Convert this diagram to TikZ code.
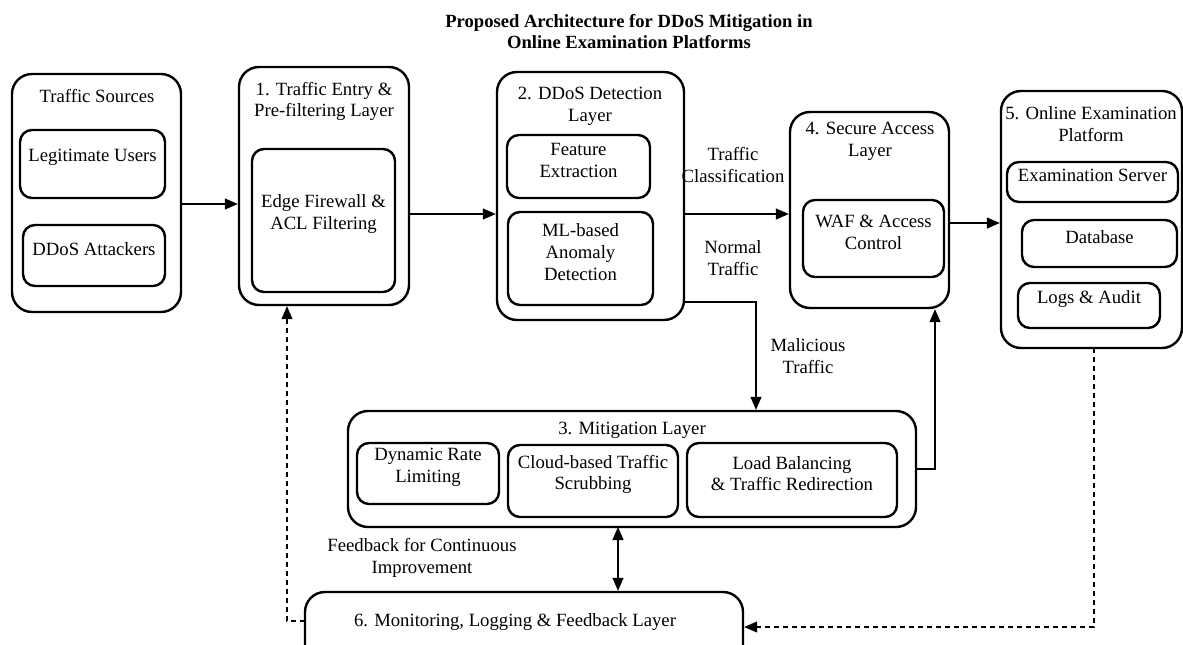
\documentclass[tikz,border=0pt]{standalone}
\usepackage{fontspec}
\setmainfont{Liberation Serif}
\newfontfamily\tnr{Liberation Serif}
\usetikzlibrary{fit,arrows.meta}
\begin{document}
\begin{tikzpicture}[x=1pt,y=-1pt,
  every node/.style={font=\tnr\fontsize{18.7}{21.8}\selectfont, align=center, inner sep=0pt},
  obox/.style={draw, line width=2.4pt, rounded corners=20pt},
  ibox/.style={draw, line width=2.4pt, rounded corners=12pt},
  arr/.style={line width=1.3pt, -{Triangle[length=13pt,width=11pt]}},
  darr/.style={line width=1.3pt, {Triangle[length=13pt,width=11pt]}-{Triangle[length=13pt,width=11pt]}},
  dasharr/.style={line width=1.1pt, dash pattern=on 5pt off 4pt, -{Triangle[length=13pt,width=11pt]}}
]
\useasboundingbox (0,0) rectangle (1183,645);
\clip (0,0) rectangle (1183,645);

% title
\node[font=\tnr\fontsize{18.6}{21}\selectfont\bfseries] (title) at (629,31.5) {Proposed Architecture for DDoS Mitigation in\\Online Examination Platforms};

% Traffic sources
\node[obox, fit={(12,74) (181,312)}] (src) {};
\node (srct) at (97,96) {Traffic Sources};
\node[ibox, fit={(20,130) (165,198)}] (legit) {Legitimate Users};
\node[ibox, fit={(23,225) (165,286)}] (ddos) {DDoS Attackers};

% Layer 1
\node[obox, fit={(239,67) (409,305)}] (l1) {};
\node (l1t) at (324,101.5) {1. Traffic Entry \&\\Pre-filtering Layer};
\node[ibox, fit={(252,149) (395,292)}] (edge) {Edge Firewall \&\\ACL Filtering};

% Layer 2
\node[obox, fit={(497,72) (684,320)}] (l2) {};
\node (l2t) at (590,106) {2. DDoS Detection\\Layer};
\node[ibox, fit={(507,135) (650,198)}] (feat) {Feature\\Extraction};
\node[ibox, fit={(508,212) (653,305)}] (ml) {ML-based\\Anomaly\\Detection};

% Layer 4
\node[obox, fit={(790,112) (949,308)}] (l4) {};
\node (l4t) at (870,141.5) {4. Secure Access\\Layer};
\node[ibox, fit={(803,200) (944,277)}] (waf) {WAF \& Access\\Control};

% Layer 5
\node[obox, fit={(1001,91) (1182,348)}] (l5) {};
\node (l5t) at (1091,124) {5. Online Examination\\Platform};
\node[ibox, fit={(1007,162) (1178,202)}] (exsrv) {Examination Server};
\node[ibox, fit={(1022,220) (1177,267)}] (db) {Database};
\node[ibox, fit={(1018,283) (1160,328)}] (logs) {Logs \& Audit};

% Layer 3
\node[obox, fit={(348,411) (916,527)}] (l3) {};
\node (l3t) at (632,430) {3. Mitigation Layer};
\node[ibox, fit={(357,443) (499,504)}] (drl) {Dynamic Rate\\Limiting};
\node[ibox, fit={(508,445) (678,517)}] (cloud) {Cloud-based Traffic\\Scrubbing};
\node[ibox, fit={(687,443) (897,517)}] (lb) {Load Balancing\\\& Traffic Redirection};

% Layer 6
\node[obox, fit={(305,592) (743,665)}] (l6) {};
\node (l6t) at (515,622) {6. Monitoring, Logging \& Feedback Layer};

% labels
\node (lclass) at (733,165) {Traffic\\Classification};
\node (lnorm) at (733,258) {Normal\\Traffic};
\node (lmal) at (808,356) {Malicious\\Traffic};
\node (lfb) at (422,558) {Feedback for Continuous\\Improvement};

% connectors
\coordinate (c1) at (181,204);
\draw[arr] (c1) -- (c1 -| l1.west);
\coordinate (c2) at (409,214);
\draw[arr] (c2) -- (c2 -| l2.west);
\coordinate (c3) at (684,214);
\draw[arr] (c3) -- (c3 -| l4.west);
\coordinate (c4) at (949,223);
\draw[arr] (c4) -- (c4 -| l5.west);
\coordinate (c5) at (684,302);
\coordinate (c5b) at (756,302);
\draw[arr] (c5) -- (c5b) -- (c5b |- l3.north);
\coordinate (c6) at (916,469);
\coordinate (c6b) at (935,469);
\draw[arr] (c6) -- (c6b) -- (c6b |- l4.south);
\coordinate (c7) at (618,527);
\draw[darr] (c7) -- (c7 |- l6.north);
\coordinate (c8) at (305,621);
\coordinate (c8b) at (287,621);
\draw[dasharr] (c8) -- (c8b) -- (c8b |- l1.south);
\coordinate (c9) at (1094,348);
\coordinate (c9b) at (1094,627);
\draw[dasharr] (c9) -- (c9b) -- (c9b -| l6.east);
\end{tikzpicture}
\end{document}
